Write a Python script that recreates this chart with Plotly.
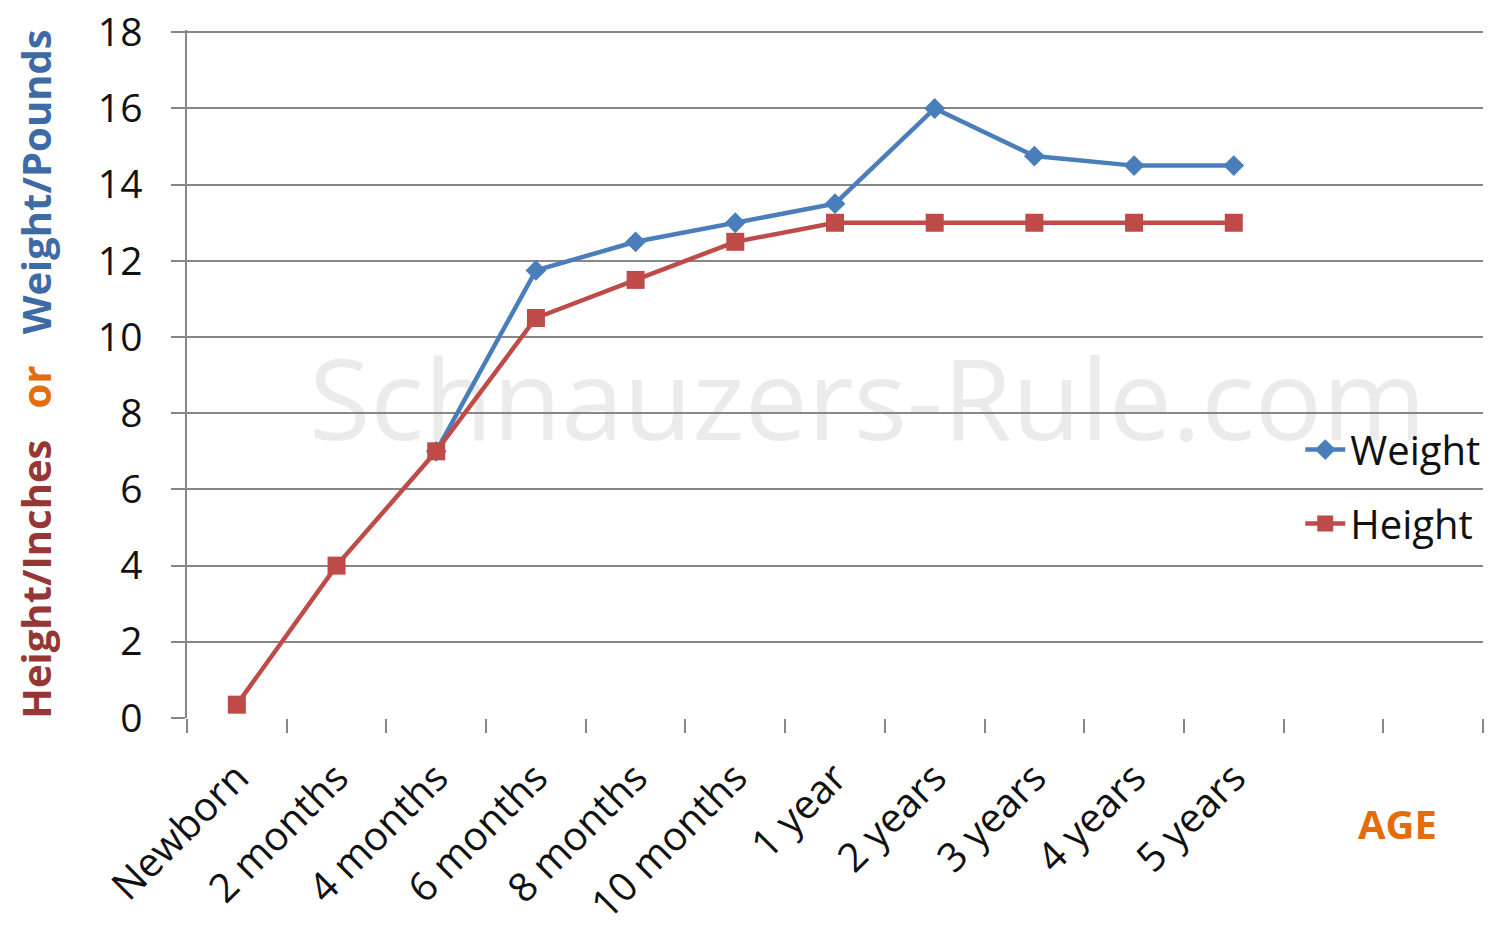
import plotly.graph_objects as go

ages = ["Newborn", "2 months", "4 months", "6 months", "8 months", "10 months",
        "1 year", "2 years", "3 years", "4 years", "5 years", "\u200b", "\u200b\u200b"]
weight = [None, None, 7, 11.75, 12.5, 13, 13.5, 16, 14.75, 14.5, 14.5]
height = [0.35, 4, 7, 10.5, 11.5, 12.5, 13, 13, 13, 13, 13]
y_ticks = [0, 2, 4, 6, 8, 10, 12, 14, 16, 18]

FONT = "Open Sans"
BLUE = "#4A7EBB"
RED = "#BE4B48"
GRID = "#878787"

fig = go.Figure()
fig.add_trace(go.Scatter(
    x=ages[:len(weight)], y=weight, name="Weight", mode="lines+markers",
    line=dict(color=BLUE, width=4.5),
    marker=dict(symbol="diamond", size=16, color=BLUE),
    legendgroup="w", connectgaps=False))
fig.add_trace(go.Scatter(
    x=ages[:len(height)], y=height, name="Height", mode="lines+markers",
    line=dict(color=RED, width=4.5),
    marker=dict(symbol="square", size=18, color=RED),
    legendgroup="h"))

title_html = ('<span style="color:#953735">Height/Inches</span>\u00a0\u00a0\u00a0'
              '<span style="color:#E46C0A">or</span>\u00a0\u00a0\u00a0'
              '<span style="color:#3E6AA6">Weight/Pounds</span>')

fig.update_layout(
    width=1485, height=918,
    margin=dict(l=179, r=10, t=22, b=208, autoexpand=False),
    paper_bgcolor="white", plot_bgcolor="white",
    font=dict(family=FONT, color="#111111"),
    showlegend=True,
    legend=dict(x=0.859, y=0.4374, xanchor="left", yanchor="top",
                bgcolor="rgba(0,0,0,0)", font=dict(size=40, color="#111111"),
                traceorder="grouped", tracegroupgap=19, itemwidth=40),
    xaxis=dict(type="category", categoryorder="array", categoryarray=ages,
               range=[-0.5, len(ages) - 0.5], tickson="boundaries",
               ticks="outside", ticklen=14, tickcolor=GRID, tickwidth=1.5,
               showgrid=False, showline=False, zeroline=False,
               tickangle=-45, tickfont=dict(size=40, family=FONT, color="#111111"),
               ticklabelstandoff=27, ticklabeloverflow="allow"),
    yaxis=dict(range=[0, 18.06], tickvals=y_ticks,
               showgrid=True, gridcolor=GRID, gridwidth=1.5,
               showline=True, linecolor=GRID, linewidth=1.5,
               ticks="outside", ticklen=14, tickcolor=GRID, tickwidth=1.5,
               zeroline=False, ticklabeloverflow="allow",
               tickfont=dict(size=39, family=FONT, color="#111111"),
               ticklabelstandoff=21,
               title=dict(text="<b>" + title_html + "</b>",
                          font=dict(size=40, family=FONT), standoff=38)),
    shapes=[dict(type="rect", xref="paper", yref="paper",
                 x0=0.10, x1=0.95, y0=0.356, y1=0.556, layer="between",
                 line=dict(width=0), fillcolor="rgba(0,0,0,0)",
                 label=dict(text="Schnauzers-Rule.com",
                            font=dict(size=112, family=FONT, color="#EBEBEB"),
                            textposition="middle center"))],
    annotations=[dict(text="<b>AGE</b>", xref="paper", yref="paper",
                      x=0.934, y=-0.153, xanchor="center", yanchor="middle",
                      showarrow=False,
                      font=dict(size=40, family=FONT, color="#E46C0A"))],
)

fig.write_html("out.html")
